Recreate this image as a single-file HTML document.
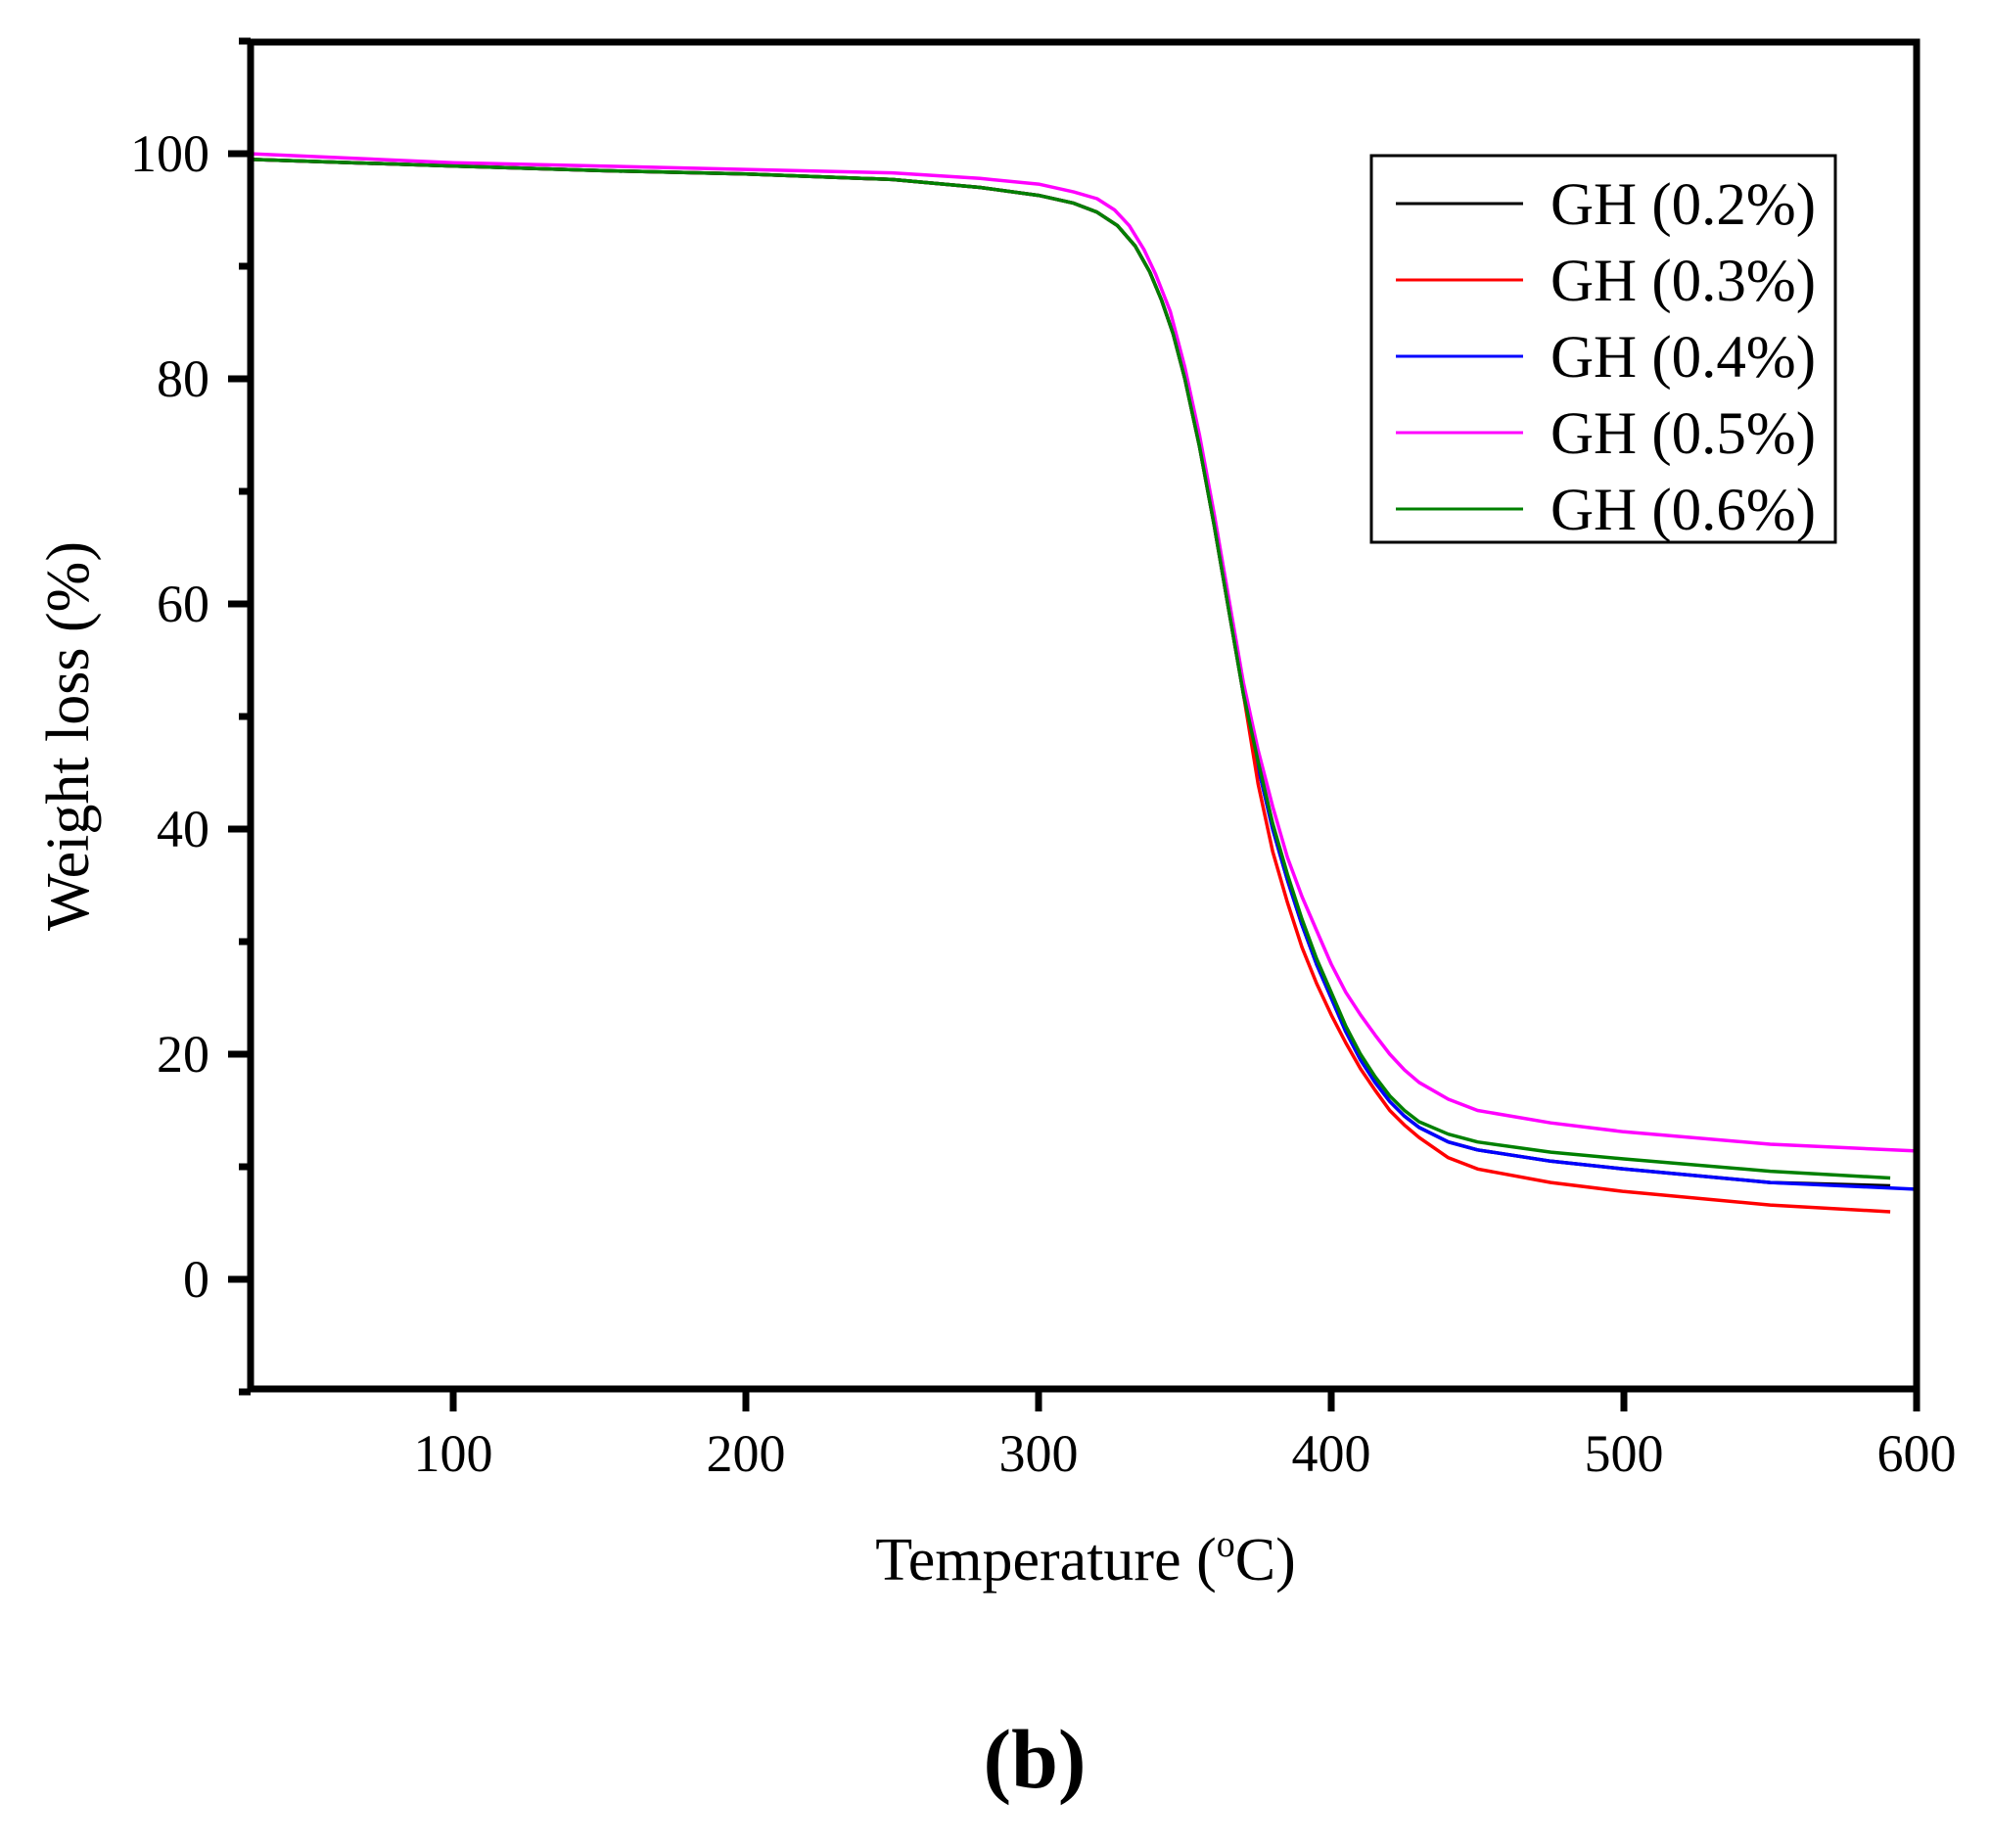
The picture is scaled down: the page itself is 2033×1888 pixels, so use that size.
<!DOCTYPE html>
<html><head><meta charset="utf-8"><style>
html,body{margin:0;padding:0;background:#fff;}
svg text{font-family:"Liberation Serif",serif;fill:#000;}
</style></head><body>
<svg id="s" width="2033" height="1883" viewBox="0 0 2033 1883" xmlns="http://www.w3.org/2000/svg">
<rect width="2033" height="1883" fill="#fff"/>
<g id="curves" fill="none" stroke-width="3.5" stroke-linejoin="round"></g>
<g stroke="#000" stroke-width="7" fill="none">
<rect x="256" y="43" width="1702" height="1376"/>
</g>
<g id="ticks" stroke="#000" stroke-width="7"></g>
<g id="labels" font-size="54"></g>
<text x="1109" y="1614" font-size="62" text-anchor="middle">Temperature (<tspan dy="-24" font-size="38">o</tspan><tspan dy="24">C)</tspan></text>
<text transform="translate(90,752) rotate(-90)" font-size="62" text-anchor="middle">Weight loss (%)</text>
<text x="1057" y="1826" font-size="86" font-weight="bold" text-anchor="middle">(b)</text>
<rect x="1401" y="159" width="474" height="395" fill="#fff" stroke="#000" stroke-width="3"/>
<g font-size="61" id="leg"></g>
</svg>
<script>
const X=T=>1958-(600-T)*2.99, Y=v=>157+(100-v)*11.5;
const ns="http://www.w3.org/2000/svg";
function el(p,t,a,txt){const e=document.createElementNS(ns,t);for(const k in a)e.setAttribute(k,a[k]);if(txt!==undefined)e.textContent=txt;p.appendChild(e);return e;}
const tk=document.getElementById('ticks'),lb=document.getElementById('labels');
for(let T=100;T<=600;T+=100){el(tk,'line',{x1:X(T),x2:X(T),y1:1419,y2:1442});el(lb,'text',{x:X(T),y:1503,'text-anchor':'middle'},T);}
for(let v=-10;v<=110;v+=10){const maj=v%20===0;el(tk,'line',{x1:256,x2:maj?233:244,y1:Y(v),y2:Y(v)});if(maj&&v>=0&&v<=100)el(lb,'text',{x:214,y:Y(v)+18,'text-anchor':'end'},v);}
const common=[[30,99.5],[100,98.9],[150,98.5],[200,98.2],[250,97.7],[280,97],[300,96.3],[312,95.6],[320,94.8],[327,93.6],[333,91.8],[338,89.5],[342,87],[346,84],[350,80],[355,74],[360,67],[365,59.5],[370,52],[375,45.5],[380,40],[385,35.5],[390,31.5],[395,28],[400,25],[405,22],[410,19.5],[415,17.5],[420,15.8],[425,14.5],[430,13.5],[440,12.2],[450,11.5],[475,10.5],[500,9.8],[550,8.6],[600,8.0]];
const head=common.filter(p=>p[0]<=370);
const series=[
{c:'#000',d:common.filter(p=>p[0]<=591).concat([[591,8.3]])},
{c:'#0000ff',d:common},
{c:'#ff0000',d:head.concat([[375,44],[380,38],[385,33.5],[390,29.5],[395,26.3],[400,23.5],[405,21],[410,18.7],[415,16.8],[420,15],[425,13.7],[430,12.6],[440,10.8],[450,9.8],[475,8.6],[500,7.8],[550,6.6],[591,6.0]])},
{c:'#ff00ff',d:[[30,100],[100,99.2],[150,98.9],[200,98.6],[250,98.3],[280,97.8],[300,97.3],[312,96.6],[320,96],[326,95],[331,93.6],[336,91.5],[340,89.3],[345,86],[350,81],[355,75],[360,68],[365,60.5],[370,53],[375,47],[380,42],[385,37.5],[390,34],[395,31],[400,28],[405,25.5],[410,23.5],[415,21.7],[420,20],[425,18.6],[430,17.5],[440,16],[450,15],[475,13.9],[500,13.1],[550,12],[600,11.4]]},
{c:'#008000',d:head.concat([[375,46],[380,40.5],[385,36],[390,32],[395,28.5],[400,25.5],[405,22.5],[410,20],[415,18],[420,16.3],[425,15],[430,14],[440,12.9],[450,12.2],[475,11.3],[500,10.7],[550,9.6],[591,9.0]])}
];
const cg=document.getElementById('curves');
for(const s of series){el(cg,'polyline',{stroke:s.c,points:s.d.map(p=>X(p[0]).toFixed(1)+','+Y(p[1]).toFixed(1)).join(' ')});}
const lg=document.getElementById('leg');
const names=['0.2','0.3','0.4','0.5','0.6'],cols=['#000','#ff0000','#0000ff','#ff00ff','#008000'];
for(let i=0;i<5;i++){const y=208+i*78;el(lg,'line',{x1:1426,x2:1556,y1:y,y2:y,stroke:cols[i],'stroke-width':3});el(lg,'text',{x:1584,y:y+21},'GH ('+names[i]+'%)');}
</script>
</body></html>
